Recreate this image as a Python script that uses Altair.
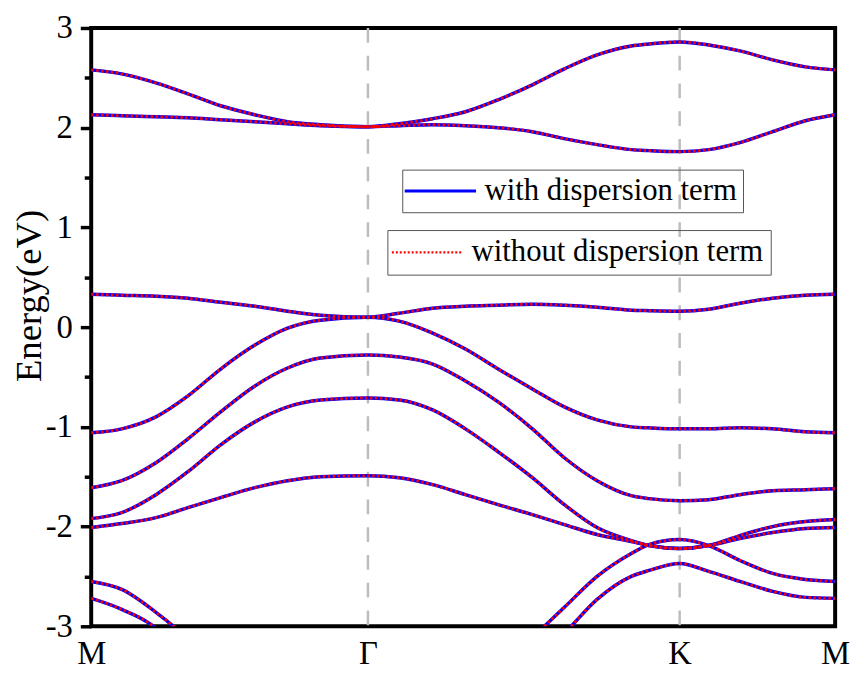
import altair as alt
import pandas as pd

# k-path coordinate (M -> Gamma -> K -> M), normalised to 0..1
K_POINTS = [0.0, 0.041, 0.087, 0.130, 0.174, 0.220, 0.264, 0.308, 0.372, 0.414,
            0.459, 0.503, 0.547, 0.593, 0.636, 0.680, 0.726, 0.750, 0.791, 0.830,
            0.872, 0.916, 0.960, 1.0]

BAND_1 = [2.58, 2.54, 2.45, 2.34, 2.22, 2.13, 2.06, 2.03, 2.01, 2.04, 2.09, 2.16,
          2.28, 2.43, 2.59, 2.73, 2.82, 2.84, 2.86, 2.83, 2.77, 2.68, 2.61, 2.58]
BAND_2 = [2.13, 2.12, 2.11, 2.10, 2.08, 2.06, 2.04, 2.02, 2.01, 2.02, 2.03, 2.02,
          2.00, 1.96, 1.89, 1.83, 1.78, 1.77, 1.76, 1.78, 1.85, 1.96, 2.07, 2.13]
BAND_3 = [0.33, 0.32, 0.31, 0.29, 0.25, 0.21, 0.16, 0.12, 0.10, 0.14, 0.19, 0.21,
          0.22, 0.23, 0.22, 0.20, 0.17, 0.165, 0.16, 0.18, 0.24, 0.29, 0.32, 0.33]
BAND_4 = [-1.06, -1.02, -0.90, -0.69, -0.42, -0.18, -0.01, 0.07, 0.10, 0.06, -0.06, -0.22,
          -0.42, -0.62, -0.80, -0.93, -1.00, -1.01, -1.02, -1.02, -1.01, -1.02, -1.05, -1.06]
BAND_5 = [-1.61, -1.54, -1.36, -1.12, -0.85, -0.59, -0.41, -0.31, -0.28, -0.30, -0.37, -0.54,
          -0.75, -1.02, -1.31, -1.54, -1.69, -1.72, -1.74, -1.73, -1.68, -1.64, -1.63, -1.62]
BAND_6 = [-1.92, -1.86, -1.68, -1.45, -1.18, -0.95, -0.80, -0.73, -0.71, -0.73, -0.83, -1.02,
          -1.25, -1.51, -1.78, -2.01, -2.14, -2.19, -2.22, -2.19, -2.09, -2.00, -1.95, -1.93]
BAND_7 = [-2.01, -1.97, -1.91, -1.81, -1.71, -1.61, -1.54, -1.50, -1.49, -1.51, -1.58, -1.68,
          -1.78, -1.88, -1.98, -2.08, -2.15, -2.19, -2.22, -2.19, -2.12, -2.06, -2.02, -2.01]
BAND_8 = [-2.55, -2.63, -2.86, -3.13, -3.5, -3.8, -4.0, -4.1, -4.2, -4.1, -4.0, -3.8,
          -3.5, -3.12, -2.81, -2.50, -2.27, -2.18, -2.13, -2.19, -2.34, -2.47, -2.53, -2.55]
BAND_9 = [-2.72, -2.83, -3.02, -3.4, -3.7, -4.0, -4.2, -4.3, -4.4, -4.3, -4.2, -4.0,
          -3.7, -3.35, -3.07, -2.73, -2.50, -2.44, -2.37, -2.45, -2.55, -2.65, -2.71, -2.72]

BANDS = [BAND_1, BAND_2, BAND_3, BAND_4, BAND_5, BAND_6, BAND_7, BAND_8, BAND_9]

X_TICK_POS = [0.0, 0.372, 0.791, 1.0]
X_TICK_LABELS = ["M", "Γ", "K", "M"]
SYM_LINES = [0.372, 0.791]
Y_MAJOR = [-3, -2, -1, 0, 1, 2, 3]
Y_MINOR = [-2.5, -1.5, -0.5, 0.5, 1.5, 2.5]
LEGEND_LABELS = ["with dispersion term", "without dispersion term"]

FONT = "Liberation Serif"

rows = []
for i, vals in enumerate(BANDS):
    for k, e in zip(K_POINTS, vals):
        rows.append({"band": f"b{i}", "k": k, "E": e})
df = pd.DataFrame(rows)
df["s_with"] = LEGEND_LABELS[0]
df["s_without"] = LEGEND_LABELS[1]

label_expr = ""
for p, lab in zip(X_TICK_POS, X_TICK_LABELS):
    label_expr += f"abs(datum.value - {p}) < 0.001 ? '{lab}' : "
label_expr += "''"

x_scale = alt.Scale(domain=[0, 1], nice=False, zero=False)
y_scale = alt.Scale(domain=[-3, 3], nice=False, zero=False)

x_enc = alt.X("k:Q", scale=x_scale,
              axis=alt.Axis(values=X_TICK_POS, labelExpr=label_expr, ticks=False,
                            domain=False, grid=False, labelFont=FONT, labelFontSize=33,
                            labelColor="black", labelPadding=12, title=None,
                            labelOverlap=False, labelFlush=False))
y_axis = alt.Axis(values=Y_MAJOR, tickSize=11, tickWidth=3.5, tickColor="black",
                  domain=False, grid=False, labelFont=FONT, labelFontSize=33,
                  labelExpr="datum.value < 0 ? '-' + abs(datum.value) : '' + datum.value",
                  labelColor="black", labelPadding=8, title="Energy(eV)",
                  titleFont=FONT, titleFontSize=37, titleFontWeight="normal",
                  titleColor="black", titleX=-62, titleY=270, titleAngle=270,
                  titleAlign="center", titleBaseline="middle",
                  orient="left", labelOverlap=False)
y_enc = alt.Y("E:Q", scale=y_scale, axis=y_axis)

rules = alt.Chart(pd.DataFrame({"k": SYM_LINES})).mark_rule(
    color="#bdbdbd", strokeWidth=2.5, strokeDash=[15, 13]
).encode(x=x_enc)

SYMBOL_PATH = "M-6,0H6"

blue = alt.Chart(df).mark_line(strokeWidth=3.5, interpolate="monotone", clip=True).encode(
    x=x_enc, y=y_enc, detail="band:N",
    color=alt.Color("s_with:N",
                    scale=alt.Scale(domain=[LEGEND_LABELS[0]], range=["#0000ff"]),
                    legend=alt.Legend(orient="none", legendX=314, legendY=143, title=None,
                                      strokeColor="#555555", padding=6,
                                      symbolType=SYMBOL_PATH, symbolSize=144,
                                      symbolOffset=17, symbolStrokeWidth=3,
                                      labelFont=FONT, labelFontSize=31, labelLimit=500,
                                      labelOffset=29, labelColor="black"))
)

red = alt.Chart(df).mark_line(strokeWidth=3, strokeDash=[2.5, 2.5], interpolate="monotone",
                              clip=True).encode(
    x=x_enc, y=y_enc, detail="band:N",
    color=alt.Color("s_without:N",
                    scale=alt.Scale(domain=[LEGEND_LABELS[1]], range=["#ff0000"]),
                    legend=alt.Legend(orient="none", legendX=299, legendY=204, title=None,
                                      strokeColor="#555555", padding=7,
                                      symbolType=SYMBOL_PATH, symbolSize=144,
                                      symbolOffset=18, symbolStrokeWidth=2.2,
                                      symbolDash=[2, 2],
                                      labelFont=FONT, labelFontSize=31, labelLimit=500,
                                      labelOffset=29, labelColor="black"))
)

main = alt.layer(rules, blue, red).resolve_scale(color="independent")

minor = alt.Chart(pd.DataFrame({"m": Y_MINOR})).mark_point(opacity=0).encode(
    y=alt.Y("m:Q", scale=y_scale,
            axis=alt.Axis(values=Y_MINOR, labels=False, tickSize=7, tickWidth=3.5,
                          tickColor="black", domain=False, grid=False, title=None,
                          orient="left"))
)

chart = alt.layer(main, minor).resolve_axis(y="independent").properties(
    width=751, height=604,
    padding={"left": 84, "top": 17, "right": 15, "bottom": 46},
    autosize=alt.AutoSizeParams(type="none"),
    background="white",
).configure_view(stroke="black", strokeWidth=4)

chart.save("out.html", embed_options={"renderer": "svg", "actions": False})
